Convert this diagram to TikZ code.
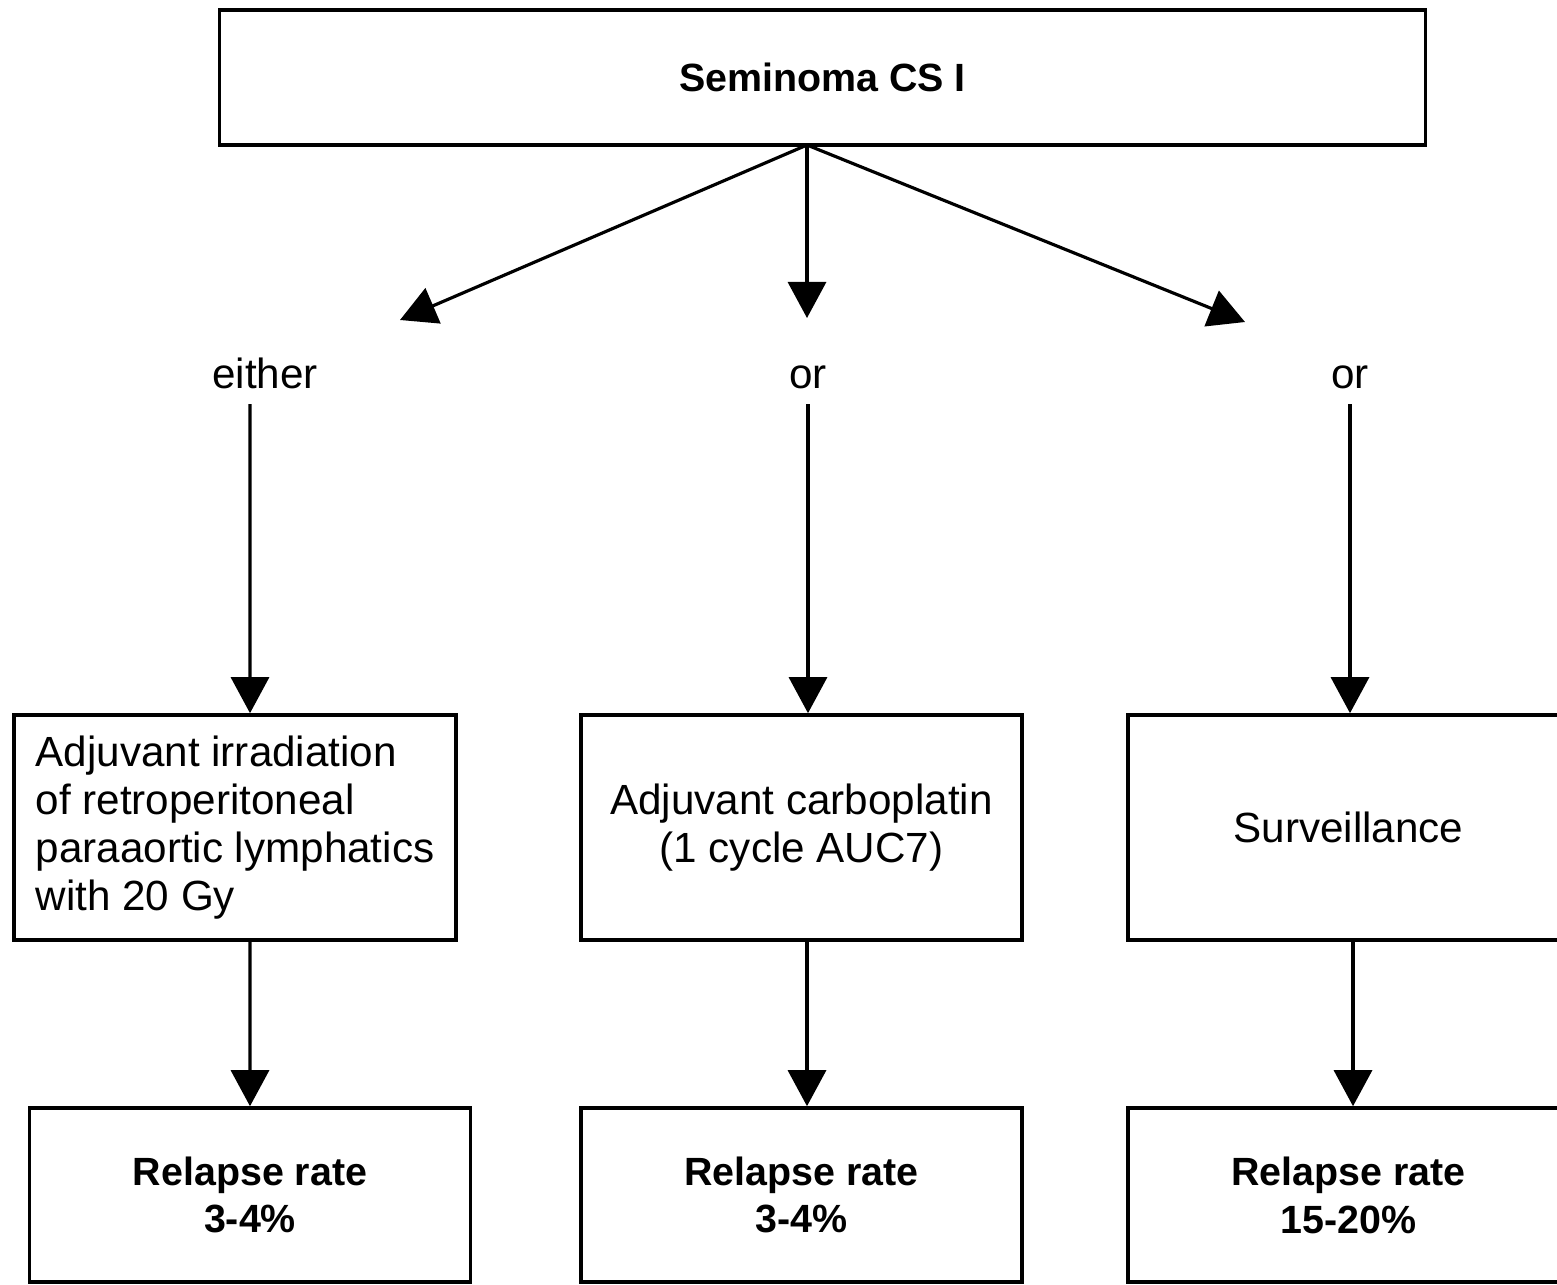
\documentclass[tikz,border=0pt]{standalone}
\usepackage{fontspec}
\setmainfont{Liberation Sans}
\usetikzlibrary{arrows.meta}

\tikzset{
  box/.style={draw, line width=1pt, inner sep=0pt, align=center,
              font=\fontsize{12}{13.6}\selectfont},
  resbox/.style={box, minimum width=4.41cm, minimum height=1.74cm,
                 font=\fontsize{11.2}{13.6}\selectfont\bfseries},
  choice/.style={anchor=base, font=\fontsize{12}{13.6}\selectfont},
  arr/.style={line width=0.9pt, -{Triangle[length=3.6mm,width=3.8mm]}}
}

\begin{document}
\begin{tikzpicture}[x=0.01cm, y=-0.01cm]
\useasboundingbox (0,0) rectangle (1557,1284);
\clip (0,0) rectangle (1557,1284);

% top
\node [box, minimum width=12.05cm, minimum height=1.35cm, font=\fontsize{11.2}{13.6}\selectfont\bfseries]
      (seminoma) at (822.5,77.5) {Seminoma CS I};

% choices
\node [choice] (either) at (265,388) {either};
\node [choice] (orA) at (808,388) {or};
\node [choice] (orB) at (1350,388) {or};
\coordinate (fork) at (807,145);
\coordinate (tipA) at (400,320);
\coordinate (tipB) at (807,318);
\coordinate (tipC) at (1245,322);

% treatments
\node [box, minimum width=4.42cm, minimum height=2.25cm, align=left] (irrad) at (235,827.5)
      {Adjuvant irradiation\\of retroperitoneal\\paraaortic lymphatics\\with 20 Gy};
\node [box, minimum width=4.41cm, minimum height=2.25cm] (carbo) at (801.5,827.5)
      {Adjuvant carboplatin\\(1 cycle AUC7)};
\node [box, minimum width=4.41cm, minimum height=2.25cm] (surv) at (1348.5,827.5)
      {Surveillance};

% relapse rates
\node [resbox] (relA) at (250,1195) {Relapse rate\\3-4\%};
\node [resbox] (relB) at (801.5,1195) {Relapse rate\\3-4\%};
\node [resbox] (relC) at (1348.5,1195) {Relapse rate\\15-20\%};

\draw [arr] (fork) -- (tipA);
\draw [arr] (fork) -- (tipB);
\draw [arr] (fork) -- (tipC);

\draw [arr] ([xshift=-1.5mm, yshift=-1.6mm]either.base) -- ([xshift=1.5mm]irrad.north);
\draw [arr] ([yshift=-1.6mm]orA.base) -- (orA.base |- carbo.north);
\draw [arr] ([yshift=-1.6mm]orB.base) -- (orB.base |- surv.north);

\draw [arr] ([xshift=1.5mm]irrad.south) -- (relA.north);
\draw [arr] (carbo.south -| fork) -- (relB.north -| fork);
\draw [arr] ([xshift=0.45mm]surv.south) -- ([xshift=0.45mm]relC.north);
\end{tikzpicture}
\end{document}
